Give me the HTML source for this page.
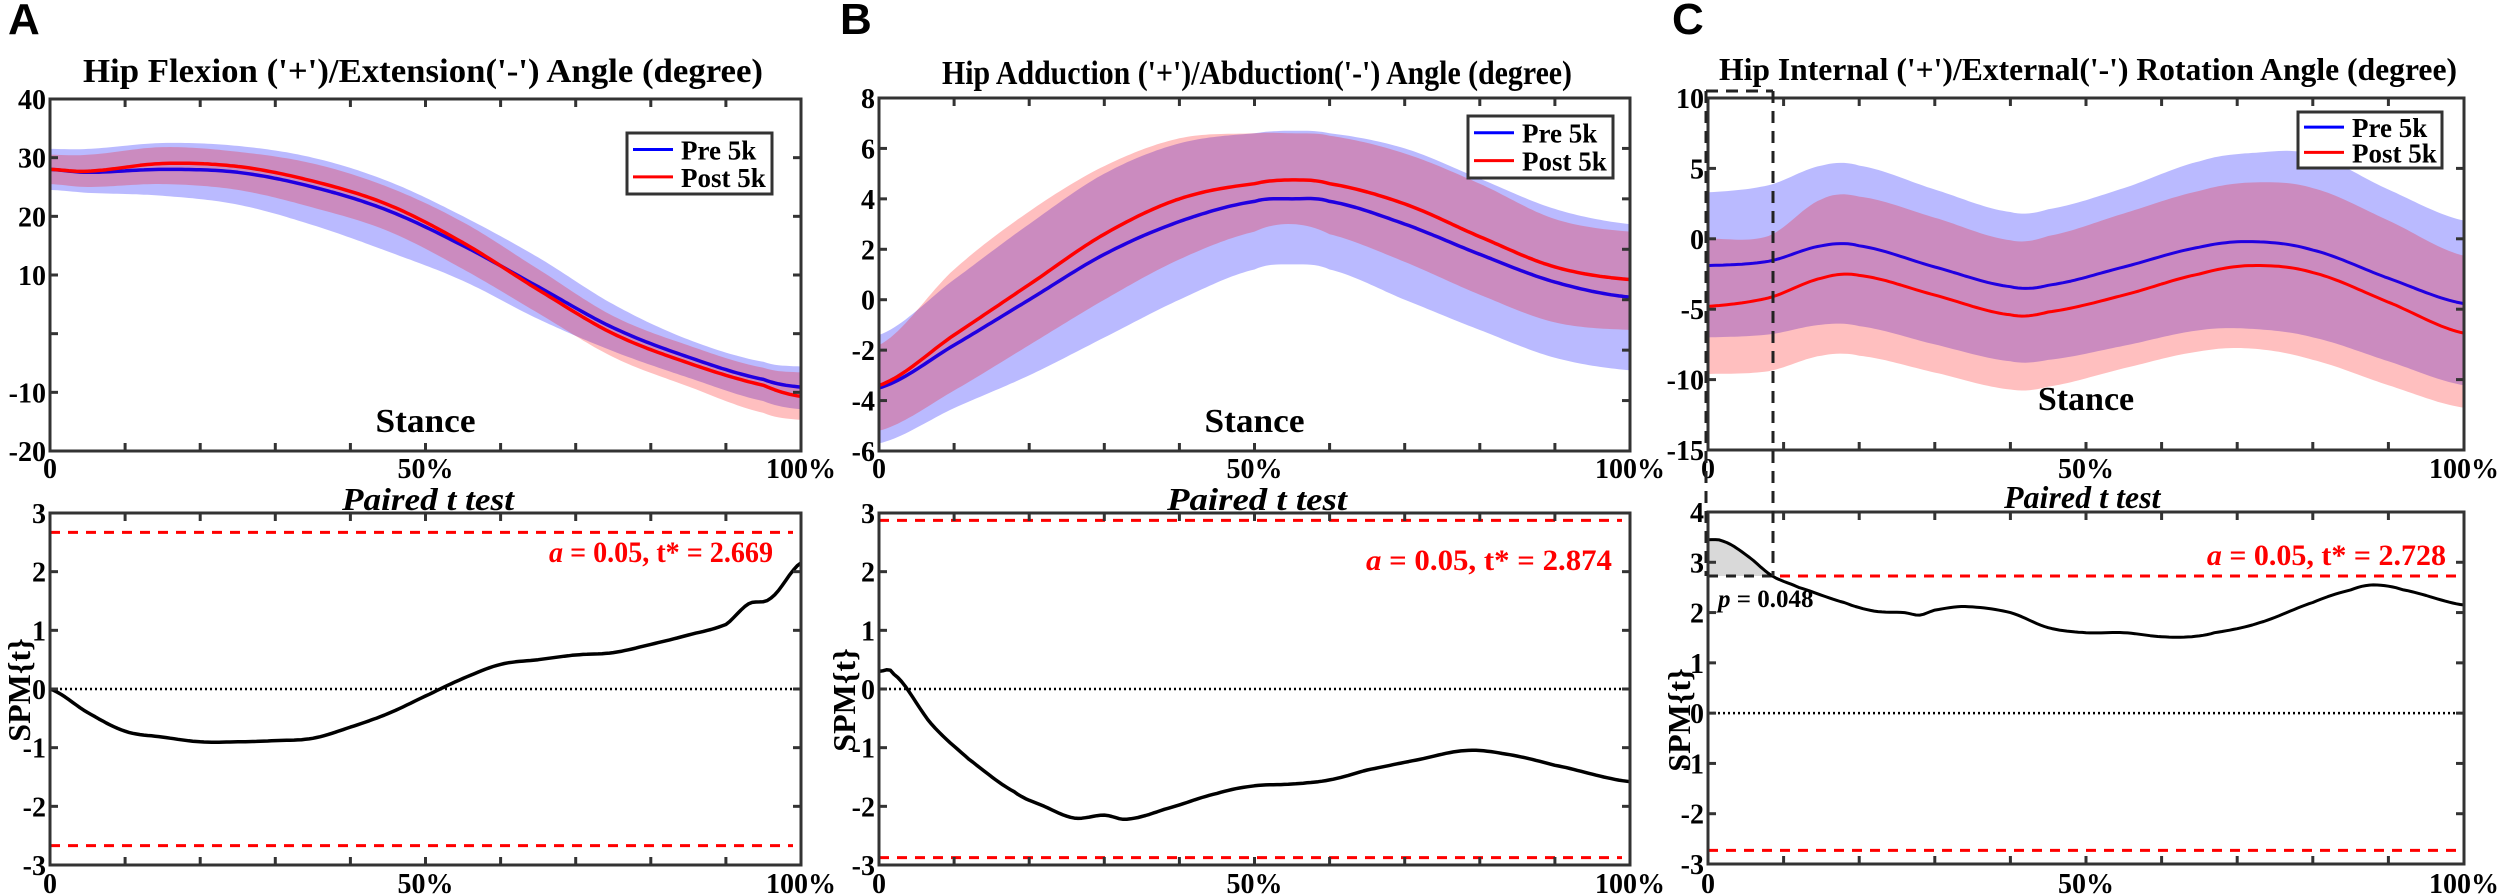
<!DOCTYPE html>
<html><head><meta charset="utf-8"><style>
html,body{margin:0;padding:0;background:#fff;width:2500px;height:896px;overflow:hidden}
svg{font-family:"Liberation Serif","DejaVu Serif",serif}
svg text{font-family:"Liberation Serif","DejaVu Serif",serif;font-weight:bold;fill:#000}
svg text.lt{font-family:"Liberation Sans","DejaVu Sans",sans-serif}
</style></head><body>
<svg id="s" width="2500" height="896" xmlns="http://www.w3.org/2000/svg" font-family="Liberation Serif, serif"></svg>
<script>
const S=document.getElementById('s');let h='';
const FF='font-family="Liberation Serif, DejaVu Serif, serif"';
function interp(ts,vs,n){const pts=[];for(let i=0;i<=n;i++){const t=i/n;let k=0;while(k<ts.length-2&&t>ts[k+1])k++;
const p0=vs[Math.max(k-1,0)],p1=vs[k],p2=vs[k+1],p3=vs[Math.min(k+2,vs.length-1)];
const u=(t-ts[k])/(ts[k+1]-ts[k]);const u2=u*u,u3=u2*u;
const v=0.5*((2*p1)+(-p0+p2)*u+(2*p0-5*p1+4*p2-p3)*u2+(-p0+3*p1-3*p2+p3)*u3);pts.push([t,v]);}return pts;}
function ax(x0,x1,y0,y1,vmin,vmax){return{X:t=>x0+t*(x1-x0),Y:v=>y1-(v-vmin)/(vmax-vmin)*(y1-y0),x0,x1,y0,y1}}
function line(a,ts,vs,col,w,extra){const p=interp(ts,vs,200).map(q=>a.X(q[0]).toFixed(1)+','+a.Y(q[1]).toFixed(1)).join(' ');
h+=`<polyline points="${p}" fill="none" stroke="${col}" stroke-width="${w}" stroke-linejoin="round" ${extra||''}/>`;}
function band(a,ts,up,lo,col){const u=interp(ts,up,200),l=interp(ts,lo,200).reverse();
h+=`<polygon points="${u.concat(l).map(q=>a.X(q[0]).toFixed(1)+','+a.Y(q[1]).toFixed(1)).join(' ')}" fill="${col}"/>`;}
function frame(a,yt){h+=`<rect x="${a.x0}" y="${a.y0}" width="${a.x1-a.x0}" height="${a.y1-a.y0}" fill="none" stroke="#333" stroke-width="3"/>`;
for(let i=1;i<10;i++){const x=a.X(i/10);h+=`<line x1="${x}" y1="${a.y0}" x2="${x}" y2="${a.y0+8}" stroke="#333" stroke-width="3"/><line x1="${x}" y1="${a.y1}" x2="${x}" y2="${a.y1-8}" stroke="#333" stroke-width="3"/>`;}
yt.forEach(v=>{const y=a.Y(v);h+=`<line x1="${a.x0}" y1="${y}" x2="${a.x0+8}" y2="${y}" stroke="#333" stroke-width="3"/><line x1="${a.x1}" y1="${y}" x2="${a.x1-8}" y2="${y}" stroke="#333" stroke-width="3"/>`;});}
function T_(x,y,fs,txt,extra){h+=`<text x="${x}" y="${y}" font-size="${fs}" ${FF} font-weight="bold" ${extra||''}>${txt}</text>`;}
function ylabels(a,vals,lab){vals.forEach((v,i)=>{const l=lab?lab[i]:String(v);if(l==='')return;T_(a.x0-4,a.Y(v)+10,28,l,'text-anchor="end"');});}
function xlabels(a,yb){T_(a.x0,yb,28,'0','text-anchor="middle"');T_(a.X(.5),yb,28,'50%','text-anchor="middle"');T_(a.x1,yb,28,'100%','text-anchor="middle"');}
function legend(x0,y0,x1,y1){h+=`<rect x="${x0}" y="${y0}" width="${x1-x0}" height="${y1-y0}" fill="#fff" stroke="#333" stroke-width="3"/>
<line x1="${x0+6}" y1="${y0+(y1-y0)*0.27}" x2="${x0+46}" y2="${y0+(y1-y0)*0.27}" stroke="#0000ff" stroke-width="3"/>
<line x1="${x0+6}" y1="${y0+(y1-y0)*0.72}" x2="${x0+46}" y2="${y0+(y1-y0)*0.72}" stroke="#ff0000" stroke-width="3"/>`;
T_(x0+54,y0+(y1-y0)*0.27+10,27,'Pre 5k');T_(x0+54,y0+(y1-y0)*0.72+10,27,'Post 5k');}
const BL='rgba(0,0,255,0.27)',RD='rgba(255,0,0,0.25)';
const LT=(x,t)=>`<text class="lt" x="${x}" y="34" font-size="44" font-weight="bold" style="font-family:'Liberation Sans','DejaVu Sans',sans-serif">${t}</text>`;
// ---------- Panel A ----------
h+=LT(8,'A');
T_(83,82,34,"Hip Flexion ('+')/Extension('-') Angle (degree)",'textLength="680" lengthAdjust="spacingAndGlyphs"');
let a=ax(50,801,99,451,-20,40);
const TA=[0,.05,.15,.25,.35,.45,.55,.65,.75,.85,.95,1];
band(a,TA,[31.5,31.5,32.5,32,30,26,20,13,5,-1,-4.8,-5.6],[24.5,24,23.5,22,18.5,14,9,2.5,-3,-7.5,-11.5,-12.9],BL);
band(a,TA,[30.5,30.5,31.8,31,29,25,19,11,3,-2,-5.8,-6.6],[25.5,25,25.5,24.5,21.5,17.5,11,3.5,-4,-9,-13.5,-14.7],RD);
line(a,TA,[28,27.5,28,27.5,25,21,15,8,1,-4,-7.8,-9.1],'#2000e0',3.5);
line(a,TA,[28,27.7,29,28.5,26,22,15.5,7.5,0,-5,-8.8,-10.7],'#ff0000',3.5);
frame(a,[30,20,10,0,-10]);
ylabels(a,[40,30,20,10,0,-10,-20],['40','30','20','10','','-10','-20']);
legend(627,133,772,194);
T_(a.X(.5),432,34,'Stance','text-anchor="middle" textLength="100" lengthAdjust="spacingAndGlyphs"');
xlabels(a,478);
T_(342,510,32,'Paired t test','font-style="italic" textLength="172" lengthAdjust="spacingAndGlyphs"');
let b=ax(50,801,513,865,-3,3);
h+=`<line x1="${b.x0}" y1="${b.Y(0)}" x2="${b.x1}" y2="${b.Y(0)}" stroke="#000" stroke-width="2.5" stroke-dasharray="2,3"/>`;
[2.669,-2.669].forEach(v=>h+=`<line x1="${b.x0}" y1="${b.Y(v)}" x2="${b.x1-8}" y2="${b.Y(v)}" stroke="#ff0000" stroke-width="3" stroke-dasharray="10,8"/>`);
line(b,[0,.05,.1,.15,.2,.25,.3,.35,.4,.45,.5,.55,.6,.65,.7,.75,.8,.85,.9,.93,.96,1],[0,-.4,-.72,-.82,-.9,-.9,-.88,-.84,-.65,-.42,-.12,.18,.42,.5,.58,.62,.76,.92,1.1,1.45,1.55,2.15],'#000',3.5);
frame(b,[2,1,0,-1,-2]);
ylabels(b,[3,2,1,0,-1,-2,-3]);
T_(549,562,30,'<tspan font-style="italic">a</tspan> = 0.05,  t* = 2.669','fill="#ff0000" style="fill:#ff0000" textLength="224" lengthAdjust="spacingAndGlyphs"');
h+=`<text transform="translate(30,690) rotate(-90)" font-size="32" font-weight="bold" ${FF} text-anchor="middle">SPM{t}</text>`;
xlabels(b,893);
// ---------- Panel B ----------
h+=LT(840,'B');
T_(942,84,34,"Hip Adduction ('+')/Abduction('-') Angle (degree)",'textLength="630" lengthAdjust="spacingAndGlyphs"');
a=ax(879,1630,98,451,-6,8);
const TB=[0,.1,.2,.3,.4,.5,.55,.6,.7,.8,.9,1];
band(a,TB,[-1.4,.8,3,5,6.2,6.6,6.7,6.6,6,4.8,3.6,3],[-5.7,-4.3,-3,-1.5,0,1.2,1.4,1.2,0,-1.2,-2.3,-2.8],BL);
band(a,TB,[-1.8,1.2,3.5,5.3,6.4,6.6,6.6,6.5,5.8,4.6,3.2,2.7],[-5.2,-3.6,-1.8,0,1.6,2.7,3,2.6,1.5,.2,-.9,-1.2],RD);
line(a,TB,[-3.5,-1.8,0,1.8,3.1,3.9,4,3.9,3,1.8,.7,.1],'#2000e0',3.5);
line(a,TB,[-3.4,-1.4,.6,2.6,4,4.6,4.75,4.6,3.8,2.5,1.3,.8],'#ff0000',3.5);
frame(a,[6,4,2,0,-2,-4]);
ylabels(a,[8,6,4,2,0,-2,-4,-6]);
legend(1468,116,1613,178);
T_(a.X(.5),432,34,'Stance','text-anchor="middle" textLength="100" lengthAdjust="spacingAndGlyphs"');
xlabels(a,478);
T_(1167,510,32,'Paired t test','font-style="italic" textLength="180" lengthAdjust="spacingAndGlyphs"');
b=ax(879,1630,513,865,-3,3);
h+=`<line x1="${b.x0}" y1="${b.Y(0)}" x2="${b.x1}" y2="${b.Y(0)}" stroke="#000" stroke-width="2.5" stroke-dasharray="2,3"/>`;
[2.874,-2.874].forEach(v=>h+=`<line x1="${b.x0}" y1="${b.Y(v)}" x2="${b.x1-8}" y2="${b.Y(v)}" stroke="#ff0000" stroke-width="3" stroke-dasharray="10,8"/>`);
line(b,[0,.02,.07,.12,.18,.22,.26,.3,.33,.38,.45,.5,.55,.6,.65,.72,.78,.83,.9,1],[.3,.25,-.6,-1.2,-1.75,-2,-2.2,-2.15,-2.22,-2.05,-1.78,-1.65,-1.62,-1.55,-1.38,-1.2,-1.05,-1.1,-1.3,-1.58],'#000',3.5);
frame(b,[2,1,0,-1,-2]);
ylabels(b,[3,2,1,0,-1,-2,-3]);
T_(1612,570,30,'<tspan font-style="italic">a</tspan> = 0.05, t* = 2.874','text-anchor="end" fill="#ff0000" style="fill:#ff0000" textLength="246" lengthAdjust="spacingAndGlyphs"');
h+=`<text transform="translate(855,700) rotate(-90)" font-size="32" font-weight="bold" ${FF} text-anchor="middle">SPM{t}</text>`;
xlabels(b,893);
// ---------- Panel C ----------
h+=LT(1672,'C');
T_(1719,80,32,"Hip Internal ('+')/External('-') Rotation Angle (degree)",'textLength="738" lengthAdjust="spacingAndGlyphs"');
a=ax(1708,2464,98,450,-15,10);
const TC=[0,.08,.15,.2,.3,.4,.45,.55,.65,.72,.8,.9,1];
band(a,TC,[3.3,3.8,5.2,5.2,3.5,1.9,2.1,3.6,5.5,6.1,6,3.5,1.3],[-7,-6.8,-6.1,-6.2,-7.5,-8.7,-8.6,-7.6,-6.5,-6.4,-7,-8.7,-10.4],BL);
band(a,TC,[0,.2,2.8,3,1.5,-.1,.2,1.8,3.4,4,3.6,1.3,-1.2],[-9.6,-9.4,-8.3,-8.3,-9.5,-10.7,-10.5,-9.2,-8,-7.8,-8.6,-10.4,-12],RD);
line(a,TC,[-1.9,-1.6,-.5,-.5,-2,-3.4,-3.3,-2,-.6,-.2,-.8,-2.8,-4.6],'#2000e0',3);
line(a,TC,[-4.8,-4.2,-2.8,-2.6,-4,-5.4,-5.2,-4,-2.5,-1.9,-2.4,-4.5,-6.7],'#ff0000',3);
frame(a,[5,0,-5,-10]);
ylabels(a,[10,5,0,-5,-10,-15]);
legend(2298,112,2442,168);
T_(a.X(.5),410,34,'Stance','text-anchor="middle"');
xlabels(a,478);
T_(2004,508,32,'Paired t test','font-style="italic"');
b=ax(1708,2464,512,864,-3,4);
const TS=[0,.02,.05,.085,.12,.18,.22,.26,.28,.3,.34,.4,.45,.5,.55,.6,.64,.67,.73,.8,.85,.88,.92,1];
const VS=[3.45,3.42,3.15,2.728,2.5,2.2,2.03,2.0,1.95,2.05,2.12,2.0,1.7,1.6,1.6,1.52,1.52,1.6,1.8,2.2,2.45,2.55,2.45,2.15];
const sp=interp(TS,VS,400).filter(q=>q[0]<=0.085);
h+=`<polygon points="${b.x0},${b.Y(2.728)} ${sp.map(q=>b.X(q[0]).toFixed(1)+','+b.Y(q[1]).toFixed(1)).join(' ')} ${b.X(.085)},${b.Y(2.728)}" fill="#d9d9d9"/>`;
h+=`<line x1="${b.x0}" y1="${b.Y(0)}" x2="${b.x1}" y2="${b.Y(0)}" stroke="#000" stroke-width="2.5" stroke-dasharray="2,3"/>`;
[2.728,-2.728].forEach(v=>h+=`<line x1="${b.x0}" y1="${b.Y(v)}" x2="${b.x1-8}" y2="${b.Y(v)}" stroke="#ff0000" stroke-width="3" stroke-dasharray="10,8"/>`);
h+=`<line x1="${b.x0}" y1="${b.Y(2.728)}" x2="${b.X(.085)}" y2="${b.Y(2.728)}" stroke="#222" stroke-width="3" stroke-dasharray="10,8"/>`;
line(b,TS,VS,'#000',3);
frame(b,[3,2,1,0,-1,-2]);
ylabels(b,[4,3,2,1,0,-1,-2,-3]);
h+=`<line x1="1773" y1="91" x2="1773" y2="576" stroke="#222" stroke-width="3" stroke-dasharray="12,8"/>`;
h+=`<line x1="1706" y1="91" x2="1706" y2="576" stroke="#222" stroke-width="3" stroke-dasharray="12,8"/>`;
h+=`<line x1="1706" y1="91" x2="1773" y2="91" stroke="#222" stroke-width="3" stroke-dasharray="12,8"/>`;
T_(1718,607,25,'<tspan font-style="italic">p</tspan> = 0.048');
T_(2446,565,30,'<tspan font-style="italic">a</tspan> = 0.05, t* = 2.728','text-anchor="end" fill="#ff0000" style="fill:#ff0000"');
h+=`<text transform="translate(1690,720) rotate(-90)" font-size="32" font-weight="bold" ${FF} text-anchor="middle">SPM{t}</text>`;
xlabels(b,893);
S.innerHTML=h;
</script>
</body></html>
